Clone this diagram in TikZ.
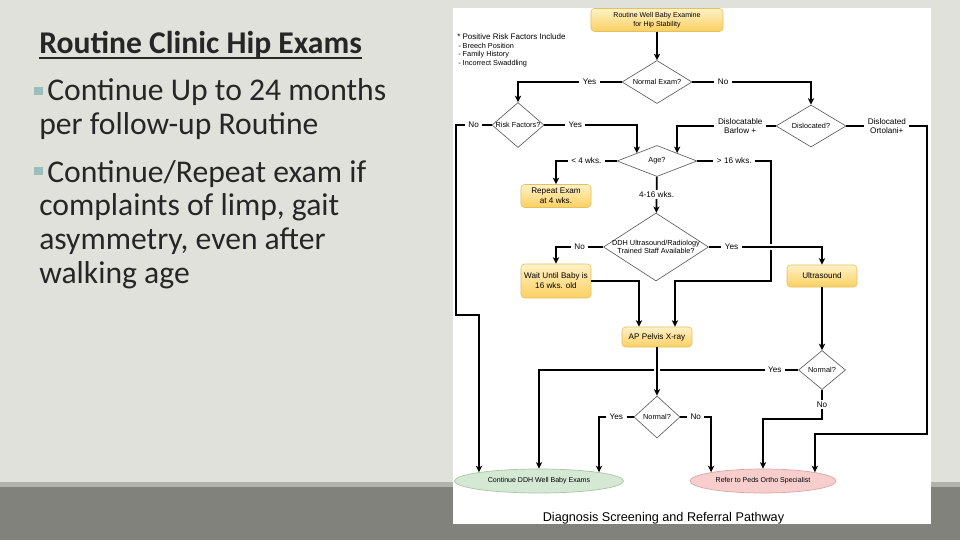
\documentclass[tikz,border=0pt]{standalone}
\usepackage{fontspec}
\setmainfont{Liberation Sans}
\newfontfamily\slidefont{Carlito}
\usepackage{tikz}
\usetikzlibrary{arrows.meta,shapes.geometric,calc}
\definecolor{slidebg}{HTML}{E1E1DC}
\definecolor{bandlight}{HTML}{B2B2AC}
\definecolor{banddark}{HTML}{82827C}
\definecolor{bulletteal}{HTML}{9DBDBB}
\definecolor{slidetext}{HTML}{262626}
\definecolor{boxtop}{HTML}{FFF1C6}
\definecolor{boxbottom}{HTML}{FBD061}
\definecolor{boxline}{HTML}{E3C060}
\definecolor{greenfill}{HTML}{D5E8D4}
\definecolor{greenline}{HTML}{A7C7A2}
\definecolor{pinkfill}{HTML}{F8CECC}
\definecolor{pinkline}{HTML}{DDA6A4}
\definecolor{diagrey}{HTML}{5A5A5A}
\tikzset{
  slidetitle/.style={font=\slidefont\bfseries\fontsize{22.5}{24}\selectfont, color=slidetext,
    inner sep=0pt, anchor=base west},
  slidebody/.style={font=\slidefont\fontsize{22.5}{24}\selectfont, color=slidetext,
    inner sep=0pt, anchor=base west},
  notehead/.style={font=\fontsize{5.7}{6.5}\selectfont, inner sep=0pt, anchor=west},
  noteitem/.style={font=\fontsize{5.2}{6}\selectfont, inner sep=0pt, anchor=west},
  stepbox/.style={rounded corners=2.5pt, draw=boxline, line width=0.4pt, top color=boxtop,
    bottom color=boxbottom, align=center, inner sep=1pt, font=\fontsize{5.8}{7}\selectfont},
  decision/.style={diamond, draw=diagrey, line width=0.45pt, fill=white, inner sep=0pt,
    label={[font=\fontsize{5.2}{6.2}\selectfont, align=center]center:#1}},
  endgreen/.style={ellipse, draw=greenline, fill=greenfill, line width=0.5pt, inner sep=0pt,
    font=\fontsize{5}{6}\selectfont},
  endpink/.style={ellipse, draw=pinkline, fill=pinkfill, line width=0.5pt, inner sep=0pt,
    font=\fontsize{5}{6}\selectfont},
  flow/.style={-{Stealth[length=4.6pt, width=4.4pt, inset=1.2pt]}, line width=1.3pt, draw=black},
  lbl/.style={fill=white, inner xsep=2.5pt, inner ysep=1pt, align=center,
    font=\fontsize{5.8}{6.6}\selectfont},
  jump/.style={preaction={-, draw=white, line width=4pt, shorten >=6pt, shorten <=6pt}},
}
\begin{document}
\begin{tikzpicture}[x=0.025cm, y=-0.025cm]
  \useasboundingbox (0,0) rectangle (960,540);
  % slide
  \fill[slidebg] (0,0) rectangle (960,540);
  \fill[bandlight] (0,482) rectangle (960,487);
  \fill[banddark] (0,487) rectangle (960,540);
  \fill[white] (453,8) rectangle (931,524);

  % left column
  \node[slidetitle] (title) at (39,53.5) {Routine Clinic Hip Exams};
  \draw[slidetext, line width=1.3pt] ([yshift=-3.2pt]title.base west) -- ([yshift=-3.2pt]title.base east);
  \fill[bulletteal] (34,87) rectangle (43,95);
  \node[slidebody] (b1a) at (47,100.7) {Continue Up to 24 months};
  \node[slidebody] (b1b) at (39,134.2) {per follow-up Routine};
  \fill[bulletteal] (34,167) rectangle (43,175);
  \node[slidebody] (b2a) at (47,182) {Continue/Repeat exam if};
  \node[slidebody] (b2b) at (39,215.5) {complaints of limp, gait};
  \node[slidebody] (b2c) at (39,249.5) {asymmetry, even after};
  \node[slidebody] (b2d) at (39,283) {walking age};

  % note
  \node[notehead] (riskhead) at (457,37) {* Positive Risk Factors Include};
  \foreach \factor [count=\i] in {Breech Position, Family History, Incorrect Swaddling}
    \node[noteitem] (riskitem\i) at (458,{37+9*\i}) {- \factor};

  % steps
  \node[stepbox, minimum width=3.3cm, minimum height=0.575cm, font=\fontsize{5}{6}\selectfont] (start) at (657,20)
    {Routine Well Baby Examine\\for Hip Stability};
  \node[decision={Normal Exam?}, minimum width=1.75cm, minimum height=1.075cm] (exam) at (657,82) {};
  \node[decision={Risk Factors?}, minimum width=1.3cm, minimum height=1.125cm] (risk) at (518,125) {};
  \node[decision={Dislocated?}, minimum width=1.75cm, minimum height=1.05cm] (disloc) at (811,126) {};
  \node[decision={Age?}, minimum width=2.0cm, minimum height=0.775cm] (age) at (657,161) {};
  \node[stepbox, minimum width=1.75cm, minimum height=0.575cm] (repeat) at (556,196) {Repeat Exam\\at 4 wks.};
  \node[decision={DDH Ultrasound/Radiology\\Trained Staff Available?}, minimum width=2.625cm, minimum height=1.7cm]
    (ddh) at (656,247) {};
  \node[stepbox, minimum width=1.75cm, minimum height=0.85cm] (wait) at (556,281) {Wait Until Baby is\\16 wks. old};
  \node[stepbox, minimum width=1.75cm, minimum height=0.55cm] (ultra) at (822,276) {Ultrasound};
  \node[stepbox, minimum width=1.75cm, minimum height=0.5cm] (ap) at (657,337) {AP Pelvis X-ray};
  \node[decision={Normal?}, minimum width=1.175cm, minimum height=0.975cm] (normR) at (822,370) {};
  \node[decision={Normal?}, minimum width=1.15cm, minimum height=1.05cm] (normL) at (657,417) {};
  \node[endgreen, minimum width=4.225cm, minimum height=0.6cm] (cont) at (539,481) {Continue DDH Well Baby Exams};
  \node[endpink, minimum width=3.65cm, minimum height=0.6cm] (refer) at (763,481) {Refer to Peds Ortho Specialist};

  % exam
  \draw[flow] (start) -- (exam);
  \draw[flow] (exam.west) -| node[lbl, pos=0.155] {Yes} (risk.north);
  \draw[flow] (exam.east) -| node[lbl, pos=0.13] {No} (disloc.north);
  \draw[flow] (risk.west) -- node[lbl] {No} ++(-36,0) -- ++(0,190) -| (cont.north west);
  \draw[flow] (risk.east) -| node[lbl, pos=0.167] {Yes} (age.north west);
  \draw[flow] (disloc.west) -| node[lbl, pos=0.18] {Dislocatable\\Barlow +} (age.north east);
  \draw[flow] (disloc.east) -- node[lbl] {Dislocated\\Ortolani+} ++(81,0) -- ++(0,308) -| (refer.north east);

  % age
  \draw[flow] (age.west) -| node[lbl, pos=0.25] {< 4 wks.} (repeat.north);
  \draw[flow] (age.east) -- node[lbl] {> 16 wks.} ++(74,0) -- ++(0,120) -| ([xshift=0.45cm]ap.north);
  \draw[flow] (age) -- node[lbl] {4-16 wks.} (ddh);

  % imaging
  \draw[flow] (ddh.west) -| node[lbl, pos=0.25] {No} (wait.north);
  \draw[flow, jump] (ddh.east) -| node[lbl, pos=0.1] {Yes} (ultra.north);
  \draw[flow] (wait.east) -| ([xshift=-0.45cm]ap.north);
  \draw[flow] (ultra) -- (normR);

  % results
  \draw[flow] (normR.west) -| node[lbl, pos=0.045] {Yes} (cont.north);
  \draw[flow, jump] (ap) -- (normL);
  \draw[flow] (normR.south) -- node[lbl] {No} ++(0,29) -| (refer.north);
  \draw[flow] (normL.west) -| node[lbl, pos=0.25] {Yes} (cont.north east);
  \draw[flow] (normL.east) -| node[lbl, pos=0.25] {No} (refer.north west);

  \node[font=\fontsize{9}{10}\selectfont, inner sep=0pt] (caption) at (663.5,518) {Diagnosis Screening and Referral Pathway};
\end{tikzpicture}
\end{document}
